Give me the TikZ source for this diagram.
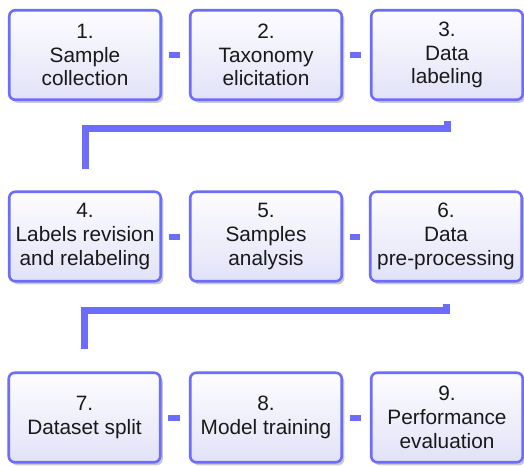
\documentclass[tikz,border=0pt]{standalone}
\usepackage{fontspec}
\setmainfont{Liberation Sans}
\usetikzlibrary{shadows}
\definecolor{bordc}{RGB}{108,108,255}
\definecolor{topc}{RGB}{253,253,255}
\definecolor{botc}{RGB}{226,226,248}
\begin{document}
\begin{tikzpicture}[x=1pt,y=-1pt,
  stepbox/.style={draw=bordc, line width=2.6pt, rounded corners=6pt,
    top color=topc, bottom color=botc,
    minimum width=151.5pt, minimum height=89.5pt, inner sep=1pt,
    align=center, font=\fontsize{20.8}{23.7}\selectfont, text=black!90,
    drop shadow={shadow xshift=2.5pt, shadow yshift=-3pt, fill=black!35, opacity=0.6}},
  link/.style={draw=bordc, line width=6pt, shorten <=6.5pt, shorten >=8.5pt},
  bendlink/.style={draw=bordc, line width=7pt}]
\useasboundingbox (0,0) rectangle (524,466);

\node[stepbox] (b1) at (85,55) {1.\\Sample\\collection};
\node[stepbox] (b2) at (266,55) {2.\\Taxonomy\\elicitation};
\node[stepbox] (b3) at (447,55) {3.\\Data\\labeling};

\node[stepbox] (b4) at (85,236.5) {4.\\Labels revision\\and relabeling};
\node[stepbox] (b5) at (266,236.5) {5.\\Samples\\analysis};
\node[stepbox] (b6) at (446,236.5) {6.\\Data\\pre-processing};

\node[stepbox] (b7) at (84.5,417.5) {7.\\Dataset split};
\node[stepbox] (b8) at (266,417.5) {8.\\Model training};
\node[stepbox] (b9) at (447,417.5) {9.\\Performance\\evaluation};

\draw[link] (b1) -- (b2);
\draw[link] (b2) -- (b3);
\draw[link] (b4) -- (b5);
\draw[link] (b5) -- (b6);
\draw[link] (b7) -- (b8);
\draw[link] (b8) -- (b9);

\draw[bendlink, shorten <=20pt, shorten >=21.5pt] (b3.south) -- ++(0,27.5) -| (b4.north);
\draw[bendlink, shorten <=21pt, shorten >=22pt] (b6.south) -- ++(0,28) -| (b7.north);
\end{tikzpicture}
\end{document}
